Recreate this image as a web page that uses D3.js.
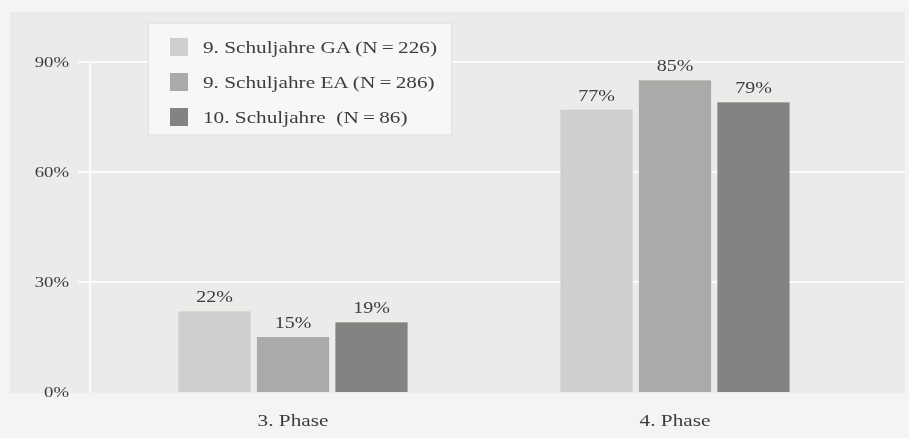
<!DOCTYPE html>
<html>
<head>
<meta charset="utf-8">
<script src="https://cdn.jsdelivr.net/npm/d3@7"></script>
<style>
  html, body { margin: 0; padding: 0; background: #f4f4f2; }
  svg { display: block; font-family: "Liberation Serif", "DejaVu Serif", serif; }
</style>
</head>
<body>
<svg id="chart" width="909" height="438"></svg>
<script>
// Anteil der Schüler je Phase und Schülergruppe (in %)
const phases = ["3. Phase", "4. Phase"];
const seriesNames = [
  "9. Schuljahre GA (N\u2009=\u2009226)",
  "9. Schuljahre EA (N\u2009=\u2009286)",
  "10. Schuljahre\u2002(N\u2009=\u200986)"
];
const valuesGA = [22, 77];
const valuesEA = [15, 85];
const values10 = [19, 79];
const yTicks = [0, 30, 60, 90];
const colors = ["#d0cfcd", "#abaaa8", "#858381"];

const seriesValues = [valuesGA, valuesEA, values10];

// breit laufende Schrift
const WIDE = "scale(1.25,1)";
const TEXT = "#3c3c3c";

const svg = d3.select("#chart");

// leichte Weichzeichnung des gesamten Diagramms
const defs = svg.append("defs");
defs.append("filter").attr("id", "soft")
  .append("feGaussianBlur").attr("stdDeviation", 0.6);

const root = svg.append("g").attr("filter", "url(#soft)");

const plot = { left: 90, right: 905, top: 12, bottom: 393 };

const y = d3.scaleLinear().domain([0, 90]).range([392, 62]);
const x0 = d3.scaleBand().domain(phases).range([102, 866])
  .paddingInner(0.4).paddingOuter(0.2);
const x1 = d3.scaleBand().domain(d3.range(seriesNames.length))
  .range([0, x0.bandwidth()]).paddingInner(0.08);

// Hintergrundfläche
root.append("rect")
  .attr("x", 10).attr("y", plot.top)
  .attr("width", plot.right - 10).attr("height", plot.bottom - plot.top)
  .attr("fill", "#ebebe9");

// Gitterlinien
root.append("g")
  .selectAll("line").data(yTicks.filter(d => d > 0)).join("line")
  .attr("x1", 78).attr("x2", plot.right)
  .attr("y1", d => y(d)).attr("y2", d => y(d))
  .attr("stroke", "#fbfbfa").attr("stroke-width", 2);

root.append("line")
  .attr("x1", plot.left).attr("x2", plot.left)
  .attr("y1", y(90)).attr("y2", plot.bottom)
  .attr("stroke", "#fbfbfa").attr("stroke-width", 2);

// y-Achse
const yAxis = root.append("g")
  .attr("transform", "translate(69,0)")
  .call(d3.axisLeft(y).tickValues(yTicks).tickFormat(d => d + "%").tickSize(0).tickPadding(0));
yAxis.select(".domain").remove();
yAxis.selectAll("text")
  .attr("font-family", "Liberation Serif, serif")
  .attr("font-size", 15).attr("fill", TEXT)
  .attr("transform", WIDE);

// x-Achse
const xAxis = root.append("g")
  .attr("transform", `translate(0,${plot.bottom})`)
  .call(d3.axisBottom(x0).tickSize(0).tickPadding(21));
xAxis.select(".domain").remove();
xAxis.selectAll("text")
  .attr("font-family", "Liberation Serif, serif")
  .attr("font-size", 17).attr("fill", TEXT)
  .attr("transform", WIDE);

// Balken
const groups = root.append("g").selectAll("g").data(phases).join("g")
  .attr("transform", d => `translate(${x0(d)},0)`);

const cells = (p, pi) => seriesValues.map((vals, si) => ({ si, v: vals[pi] }));

groups.selectAll("rect")
  .data(cells)
  .join("rect")
  .attr("x", d => x1(d.si))
  .attr("width", x1.bandwidth())
  .attr("y", d => y(d.v))
  .attr("height", d => y(0) - y(d.v))
  .attr("fill", d => colors[d.si]);

// Wertebeschriftungen
groups.selectAll("text.val")
  .data(cells)
  .join("text").attr("class", "val")
  .attr("transform", d => `translate(${x1(d.si) + x1.bandwidth() / 2},${y(d.v) - 9}) ${WIDE}`)
  .attr("text-anchor", "middle")
  .attr("font-size", 16).attr("fill", TEXT)
  .text(d => d.v + "%");

// Legende
const legend = root.append("g");
legend.append("rect")
  .attr("x", 148).attr("y", 23).attr("width", 304).attr("height", 112)
  .attr("fill", "#f7f7f6").attr("stroke", "#e2e2e0").attr("stroke-width", 1.5);

const items = legend.selectAll("g.item").data(seriesNames).join("g")
  .attr("class", "item")
  .attr("transform", (d, i) => `translate(170,${47 + i * 35})`);
items.append("rect")
  .attr("x", 0).attr("y", -9).attr("width", 18).attr("height", 18)
  .attr("fill", (d, i) => colors[i]);
items.append("text")
  .attr("transform", `translate(33,0) ${WIDE}`)
  .attr("dy", "0.35em")
  .attr("font-size", 17).attr("fill", TEXT)
  .text(d => d);
</script>
</body>
</html>
